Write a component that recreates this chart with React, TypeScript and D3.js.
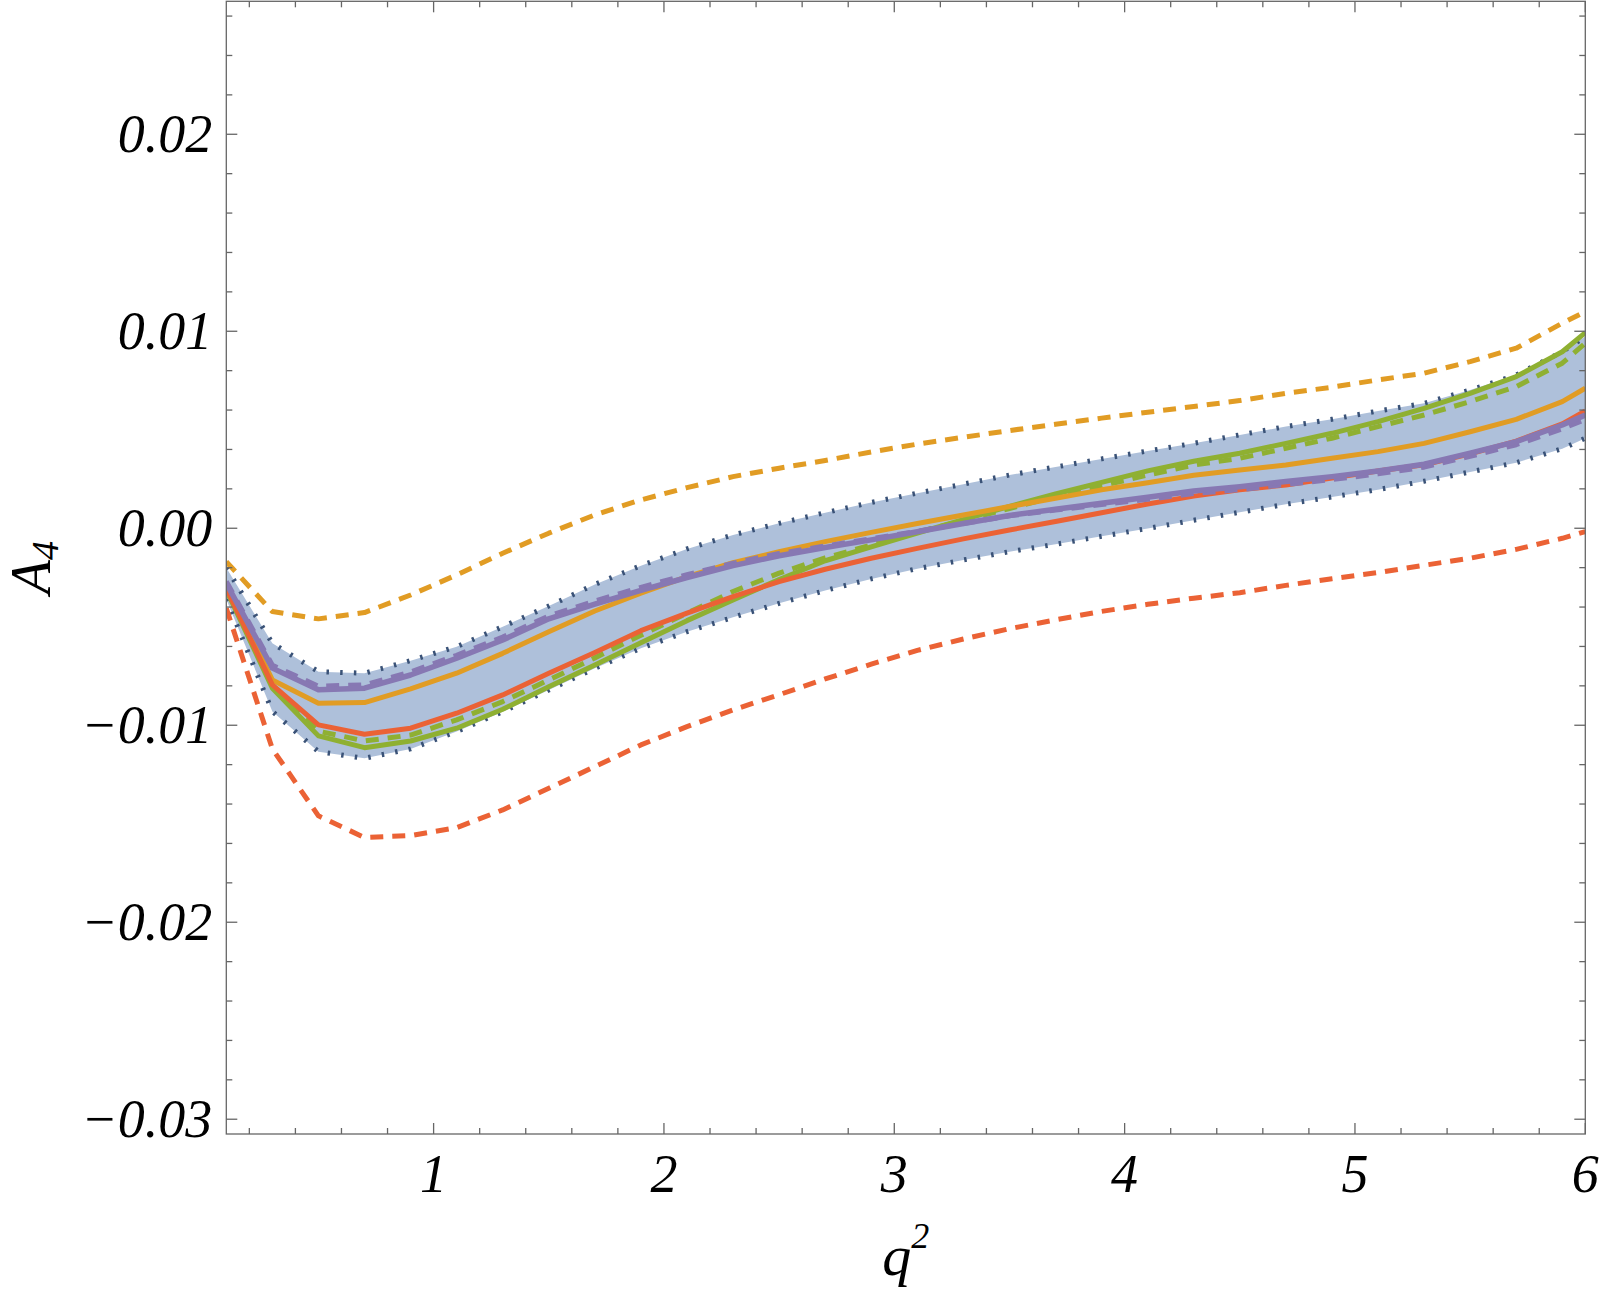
import * as d3 from 'd3'
import React, { useEffect, useRef } from 'react'

// q^2 sample points shared by every curve
const q2 = [0.1, 0.3, 0.5, 0.7, 0.9, 1.1, 1.3, 1.5, 1.7, 1.9, 2.1, 2.3, 2.5, 2.7, 2.9, 3.1, 3.3, 3.5, 3.7, 3.9, 4.1, 4.3, 4.5, 4.7, 4.9, 5.1, 5.3, 5.5, 5.7, 5.9, 6.0]

// uncertainty band (dotted edges)
const bandUpper = [-0.00200, -0.00584, -0.00728, -0.00736, -0.00672, -0.00601, -0.00500, -0.00395, -0.00285, -0.00190, -0.00105, -0.00034, 0.00025, 0.00079, 0.00131, 0.00178, 0.00224, 0.00270, 0.00311, 0.00352, 0.00392, 0.00431, 0.00474, 0.00516, 0.00553, 0.00595, 0.00634, 0.00702, 0.00778, 0.00896, 0.00973]
const bandLower = [-0.00360, -0.00930, -0.01134, -0.01168, -0.01120, -0.01032, -0.00931, -0.00821, -0.00711, -0.00609, -0.00525, -0.00452, -0.00381, -0.00316, -0.00257, -0.00205, -0.00161, -0.00119, -0.00081, -0.00041, -0.00001, 0.00041, 0.00081, 0.00122, 0.00159, 0.00196, 0.00239, 0.00286, 0.00333, 0.00404, 0.00457]

// solid curves
const purpleSolid = [-0.00280, -0.00710, -0.00820, -0.00812, -0.00745, -0.00660, -0.00567, -0.00460, -0.00385, -0.00315, -0.00250, -0.00190, -0.00140, -0.00098, -0.00059, -0.00018, 0.00024, 0.00065, 0.00096, 0.00127, 0.00157, 0.00189, 0.00211, 0.00237, 0.00262, 0.00291, 0.00325, 0.00381, 0.00440, 0.00524, 0.00575]
const orangeSolid = [-0.00296, -0.00770, -0.00888, -0.00885, -0.00815, -0.00736, -0.00635, -0.00525, -0.00420, -0.00330, -0.00246, -0.00175, -0.00119, -0.00068, -0.00021, 0.00024, 0.00067, 0.00110, 0.00152, 0.00195, 0.00231, 0.00269, 0.00296, 0.00321, 0.00355, 0.00389, 0.00431, 0.00490, 0.00553, 0.00643, 0.00711]
const redSolid = [-0.00305, -0.00795, -0.00998, -0.01046, -0.01015, -0.00939, -0.00846, -0.00736, -0.00631, -0.00520, -0.00431, -0.00347, -0.00271, -0.00208, -0.00152, -0.00102, -0.00054, -0.00009, 0.00034, 0.00079, 0.00123, 0.00163, 0.00195, 0.00220, 0.00255, 0.00291, 0.00322, 0.00378, 0.00442, 0.00530, 0.00595]
const greenSolid = [-0.00313, -0.00812, -0.01054, -0.01114, -0.01080, -0.01015, -0.00919, -0.00804, -0.00694, -0.00581, -0.00469, -0.00364, -0.00260, -0.00165, -0.00094, -0.00024, 0.00044, 0.00111, 0.00174, 0.00233, 0.00291, 0.00340, 0.00381, 0.00431, 0.00482, 0.00541, 0.00609, 0.00685, 0.00770, 0.00896, 0.00993]

// dashed curves
const purpleDashed = [-0.00270, -0.00695, -0.00802, -0.00795, -0.00730, -0.00645, -0.00552, -0.00445, -0.00370, -0.00300, -0.00236, -0.00177, -0.00128, -0.00090, -0.00053, -0.00015, 0.00024, 0.00063, 0.00092, 0.00120, 0.00147, 0.00176, 0.00196, 0.00222, 0.00247, 0.00276, 0.00310, 0.00365, 0.00424, 0.00505, 0.00552]
const greenDashed = [-0.00310, -0.00800, -0.01030, -0.01080, -0.01050, -0.00973, -0.00880, -0.00770, -0.00658, -0.00543, -0.00431, -0.00321, -0.00228, -0.00150, -0.00085, -0.00020, 0.00040, 0.00100, 0.00160, 0.00215, 0.00270, 0.00321, 0.00355, 0.00406, 0.00457, 0.00516, 0.00575, 0.00643, 0.00719, 0.00838, 0.00939]
const orangeDashed = [-0.00170, -0.00423, -0.00460, -0.00428, -0.00339, -0.00237, -0.00127, -0.00025, 0.00068, 0.00144, 0.00206, 0.00262, 0.00305, 0.00344, 0.00387, 0.00427, 0.00462, 0.00496, 0.00528, 0.00559, 0.00589, 0.00618, 0.00648, 0.00685, 0.00716, 0.00753, 0.00787, 0.00846, 0.00914, 0.01041, 0.01100]
const redDashed = [-0.00406, -0.01120, -0.01460, -0.01570, -0.01560, -0.01520, -0.01430, -0.01320, -0.01210, -0.01100, -0.01007, -0.00922, -0.00845, -0.00765, -0.00690, -0.00620, -0.00562, -0.00510, -0.00465, -0.00422, -0.00386, -0.00355, -0.00327, -0.00290, -0.00256, -0.00225, -0.00188, -0.00152, -0.00107, -0.00051, -0.00017]

const xTickLabels = ['1', '2', '3', '4', '5', '6']
const yTickValues = [-0.03, -0.02, -0.01, 0, 0.01, 0.02]

const A4Plot = () => {
  const chartRef = useRef<SVGSVGElement>(null)

  useEffect(() => {
    const width = 1600
    const height = 1291
    const left = 226.3
    const right = 1585.3
    const top = 1.3
    const bottom = 1134

    const svg = d3.select(chartRef.current)
    svg.selectAll('*').remove()
    svg.attr('width', width).attr('height', height)

    const x = d3.scaleLinear().domain([0.1, 6]).range([left, right])
    const y = d3.scaleLinear().domain([-0.03075, 0.02675]).range([bottom, top])

    svg
      .append('defs')
      .append('clipPath')
      .attr('id', 'plot-clip')
      .append('rect')
      .attr('x', left)
      .attr('y', top)
      .attr('width', right - left)
      .attr('height', bottom - top)

    const plot = svg.append('g').attr('clip-path', 'url(#plot-clip)')

    // band
    const band = d3
      .area<number>()
      .x((_, i) => x(q2[i]))
      .y0((_, i) => y(bandLower[i]))
      .y1((d) => y(d))
    plot.append('path').attr('d', band(bandUpper)).attr('fill', '#aec0da')

    const line = d3
      .line<number>()
      .x((_, i) => x(q2[i]))
      .y((d) => y(d))

    const curves: [number[], string, string | null, number][] = [
      [bandUpper, '#3a5277', '2.5 11.2', 5],
      [bandLower, '#3a5277', '2.5 11.2', 5],
      [orangeDashed, '#e19c24', '13 9', 5],
      [redDashed, '#eb6235', '13 9', 5],
      [greenDashed, '#8fb032', '13 9', 5],
      [greenSolid, '#8fb032', null, 5],
      [orangeSolid, '#e19c24', null, 5],
      [redSolid, '#eb6235', null, 5],
      [purpleDashed, '#8778b3', '13 9', 5],
      [purpleSolid, '#8778b3', null, 5.5],
    ]

    curves.forEach(([values, color, dash, w]) => {
      plot
        .append('path')
        .attr('d', line(values))
        .attr('fill', 'none')
        .attr('stroke', color)
        .attr('stroke-width', w)
        .attr('stroke-linejoin', 'round')
        .attr('stroke-dasharray', dash)
    })

    // frame
    const axisColor = '#666666'
    svg
      .append('rect')
      .attr('x', left)
      .attr('y', top)
      .attr('width', right - left)
      .attr('height', bottom - top)
      .attr('fill', 'none')
      .attr('stroke', axisColor)
      .attr('stroke-width', 1.3)

    const ticks = svg.append('g').attr('stroke', axisColor).attr('stroke-width', 1.3)
    const majorLen = 11
    const minorLen = 6

    // x ticks, every 0.2, major at integers
    d3.range(1, 31).forEach((i) => {
      const px = x(i * 0.2)
      const len = i % 5 === 0 ? majorLen : minorLen
      ticks.append('line').attr('x1', px).attr('x2', px).attr('y1', bottom).attr('y2', bottom - len)
      ticks.append('line').attr('x1', px).attr('x2', px).attr('y1', top).attr('y2', top + len)
    })

    // y ticks, every 0.002, major every 0.01
    d3.range(-15, 14).forEach((i) => {
      const py = y(i * 0.002)
      const len = i % 5 === 0 ? majorLen : minorLen
      ticks.append('line').attr('x1', left).attr('x2', left + len).attr('y1', py).attr('y2', py)
      ticks.append('line').attr('x1', right).attr('x2', right - len).attr('y1', py).attr('y2', py)
    })

    const font = "'Liberation Serif', 'Times New Roman', serif"
    const fmt = d3.format('.2f')

    svg
      .append('g')
      .selectAll('text')
      .data(yTickValues)
      .enter()
      .append('text')
      .attr('x', left - 14)
      .attr('y', (d) => y(d) + 18)
      .attr('text-anchor', 'end')
      .attr('font-family', font)
      .attr('font-style', 'italic')
      .attr('font-size', 54)
      .attr('fill', '#000')
      .text((d) => fmt(d))

    svg
      .append('g')
      .selectAll('text')
      .data(xTickLabels)
      .enter()
      .append('text')
      .attr('x', (d) => x(+d))
      .attr('y', bottom + 58)
      .attr('text-anchor', 'middle')
      .attr('font-family', font)
      .attr('font-style', 'italic')
      .attr('font-size', 54)
      .attr('fill', '#000')
      .text((d) => d)

    // axis titles
    const xTitle = svg
      .append('text')
      .attr('x', (left + right) / 2)
      .attr('y', 1275)
      .attr('text-anchor', 'middle')
      .attr('font-family', font)
      .attr('font-style', 'italic')
      .attr('font-size', 58)
    xTitle.append('tspan').text('q')
    xTitle.append('tspan').attr('dy', -27).attr('font-size', 36).text('2')

    const yTitle = svg
      .append('text')
      .attr('transform', `translate(50, ${(top + bottom) / 2}) rotate(-90)`)
      .attr('text-anchor', 'middle')
      .attr('font-family', font)
      .attr('font-style', 'italic')
      .attr('font-size', 56)
    yTitle.append('tspan').text('A')
    yTitle.append('tspan').attr('dy', 8).attr('font-size', 38).text('4')
  }, [])

  return <svg ref={chartRef} style={{ position: 'absolute', left: 0, top: 0, display: 'block' }}></svg>
}

export default function App() {
  return <A4Plot />
}
